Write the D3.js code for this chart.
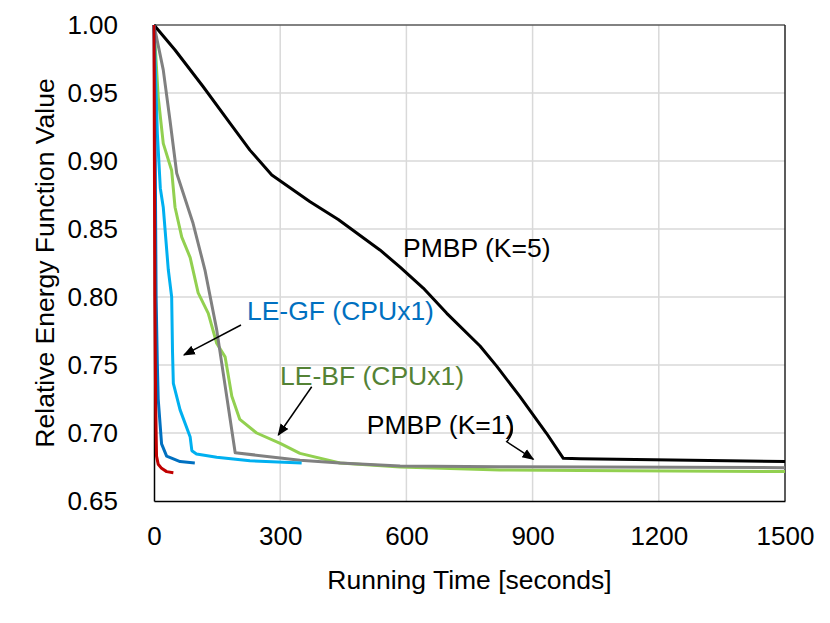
<!DOCTYPE html>
<html>
<head>
<meta charset="utf-8">
<script src="https://cdn.jsdelivr.net/npm/d3@7"></script>
<style>
  body { margin: 0; background: #fff; }
  svg text { font-family: "Liberation Sans", Arial, sans-serif; }
</style>
</head>
<body>
<svg id="chart" width="830" height="623"></svg>
<script>
// ---- data ----
const xTicks = [0, 300, 600, 900, 1200, 1500];
const yTicks = [0.65, 0.70, 0.75, 0.80, 0.85, 0.90, 0.95, 1.00];

const pmbp5Time  = [0, 50, 117, 181, 228, 280, 371, 438, 537, 585, 640, 696, 775, 815, 870, 933, 973, 1013, 1500];
const pmbp5Value = [1.0, 0.9816, 0.9546, 0.9277, 0.908, 0.8897, 0.870, 0.857, 0.8346, 0.822, 0.8066, 0.788, 0.764, 0.749, 0.7267, 0.6998, 0.6814, 0.681, 0.679];

const pmbp1Time  = [0, 22, 38, 54, 93, 121, 149, 193, 347, 442, 585, 822, 1500];
const pmbp1Value = [1.0, 0.967, 0.930, 0.891, 0.854, 0.820, 0.776, 0.6855, 0.680, 0.678, 0.6757, 0.6752, 0.6745];

const lebfTime  = [0, 10, 22, 42, 50, 66, 86, 105, 129, 149, 169, 185, 204, 244, 300, 347, 442, 585, 822, 1013, 1500];
const lebfValue = [1.0, 0.947, 0.913, 0.893, 0.866, 0.844, 0.829, 0.803, 0.788, 0.766, 0.756, 0.727, 0.710, 0.700, 0.6924, 0.685, 0.678, 0.675, 0.6728, 0.6725, 0.6716];

const legf1Time  = [0, 5, 8, 15, 22, 34, 42, 44, 46, 62, 86, 90, 101, 149, 228, 351];
const legf1Value = [1.0, 0.95, 0.92, 0.88, 0.866, 0.82, 0.80, 0.76, 0.7365, 0.717, 0.697, 0.687, 0.6846, 0.6822, 0.6796, 0.678];

const legfXTime  = [0, 3, 5, 8, 10, 18, 30, 62, 97];
const legfXValue = [1.0, 0.90, 0.80, 0.75, 0.725, 0.692, 0.683, 0.679, 0.678];

const redTime  = [0, 1, 2, 4, 6, 10, 18, 30, 46];
const redValue = [1.0, 0.90, 0.80, 0.72, 0.683, 0.677, 0.674, 0.6716, 0.6708];

const seriesNames  = ["LE-BF (CPUx1)", "PMBP (K=1)", "PMBP (K=5)", "LE-GF (CPUx1)", "LE-GF fast", "fastest"];
const seriesColors = ["#92D050", "#808080", "#000000", "#00B0F0", "#0070C0", "#C00000"];

const labelTexts  = ["PMBP (K=5)", "LE-GF (CPUx1)", "LE-BF (CPUx1)", "PMBP (K=1)"];
const labelTime   = [592, 221, 299.5, 506];
const labelValue  = [0.836, 0.7897, 0.742, 0.706];
const labelColors = ["#000000", "#0070C0", "#548235", "#000000"];

// ---- layout ----
const W = 830, H = 623;
const m = {left: 154, right: 45, top: 25, bottom: 122};
const FS = 26.5;
const svg = d3.select("#chart");
const x = d3.scaleLinear().domain([0, 1500]).range([m.left, W - m.right]);
const y = d3.scaleLinear().domain([0.65, 1.0]).range([H - m.bottom, m.top]);

// gridlines
svg.append("g").selectAll("line").data(yTicks.filter(d => d > 0.65 && d < 1.0)).join("line")
  .attr("x1", x(0)).attr("x2", x(1500))
  .attr("y1", d => y(d)).attr("y2", d => y(d))
  .attr("stroke", "#d9d9d9").attr("stroke-width", 1.5);
svg.append("g").selectAll("line").data(xTicks.filter(d => d > 0 && d < 1500)).join("line")
  .attr("y1", y(0.65)).attr("y2", y(1.0))
  .attr("x1", d => x(d)).attr("x2", d => x(d))
  .attr("stroke", "#d9d9d9").attr("stroke-width", 1.5);

// frame (top/right)
svg.append("line").attr("x1", x(0)).attr("x2", x(1500)).attr("y1", y(1.0)).attr("y2", y(1.0))
  .attr("stroke", "#595959").attr("stroke-width", 1.5);
svg.append("line").attr("x1", x(1500)).attr("x2", x(1500)).attr("y1", y(1.0)).attr("y2", y(0.65))
  .attr("stroke", "#262626").attr("stroke-width", 1.5);

// axes
const xAxis = d3.axisBottom(x).tickValues(xTicks).tickSize(0).tickPadding(26).tickFormat(d3.format("d"));
const yAxis = d3.axisLeft(y).tickValues(yTicks).tickSize(0).tickPadding(36).tickFormat(d3.format(".2f"));
const gx = svg.append("g").attr("transform", `translate(0,${y(0.65)})`).call(xAxis);
const gy = svg.append("g").attr("transform", `translate(${x(0)},0)`).call(yAxis);
[gx, gy].forEach(g => {
  g.select(".domain").attr("stroke", "#000").attr("stroke-width", 1.5);
  g.selectAll("text").attr("font-size", 26).attr("fill", "#000")
    .style("font-family", '"Liberation Sans", Arial, sans-serif');
});

// axis titles
svg.append("text").attr("x", (x(0) + x(1500)) / 2).attr("y", 589)
  .attr("text-anchor", "middle").attr("font-size", FS).text("Running Time [seconds]");
svg.append("text").attr("transform", `translate(54,${(y(0.65) + y(1.0)) / 2}) rotate(-90)`)
  .attr("text-anchor", "middle").attr("font-size", FS).text("Relative Energy Function Value");

// series
const line = d3.line().x(d => x(d[0])).y(d => y(d[1]));
const seriesData = [
  [lebfTime, lebfValue],
  [pmbp1Time, pmbp1Value],
  [pmbp5Time, pmbp5Value],
  [legf1Time, legf1Value],
  [legfXTime, legfXValue],
  [redTime, redValue]
];
svg.append("g").selectAll("path").data(seriesData).join("path")
  .attr("d", d => line(d[0].map((t, i) => [t, d[1][i]])))
  .attr("fill", "none")
  .attr("stroke", (d, i) => seriesColors[i])
  .attr("stroke-width", 3)
  .attr("stroke-linejoin", "round");

// arrows
svg.append("defs").append("marker").attr("id", "ah")
  .attr("viewBox", "0 0 10 10").attr("refX", 9).attr("refY", 5)
  .attr("markerWidth", 12).attr("markerHeight", 12).attr("markerUnits", "userSpaceOnUse")
  .attr("orient", "auto")
  .append("path").attr("d", "M0,1 L10,5 L0,9 Z").attr("fill", "#000");

const arrowTime  = [[206.8, 71.3], [374.9, 295.5]];
const arrowValue = [[0.7794, 0.7574], [0.734, 0.6985]];
arrowTime.forEach((t, i) => {
  svg.append("line")
    .attr("x1", x(t[0])).attr("y1", y(arrowValue[i][0]))
    .attr("x2", x(t[1])).attr("y2", y(arrowValue[i][1]))
    .attr("stroke", "#000").attr("stroke-width", 1.5)
    .attr("marker-end", "url(#ah)");
});
// curved connector for PMBP (K=1)
const curveTime  = [838.4, 850.3, 838.4, 901.7];
const curveValue = [0.712, 0.7022, 0.6936, 0.6807];
const p = curveTime.map((t, i) => [x(t), y(curveValue[i])]);
svg.append("path")
  .attr("d", `M${p[0][0]},${p[0][1]} Q${p[1][0] + 6},${p[1][1]} ${p[2][0]},${p[2][1]} L${p[3][0]},${p[3][1]}`)
  .attr("fill", "none").attr("stroke", "#000").attr("stroke-width", 1.5)
  .attr("marker-end", "url(#ah)");

// labels
svg.append("g").selectAll("text").data(labelTexts).join("text")
  .attr("x", (d, i) => x(labelTime[i]))
  .attr("y", (d, i) => y(labelValue[i]))
  .attr("dy", "0.35em")
  .attr("font-size", FS)
  .attr("fill", (d, i) => labelColors[i])
  .text(d => d);
</script>
</body>
</html>
